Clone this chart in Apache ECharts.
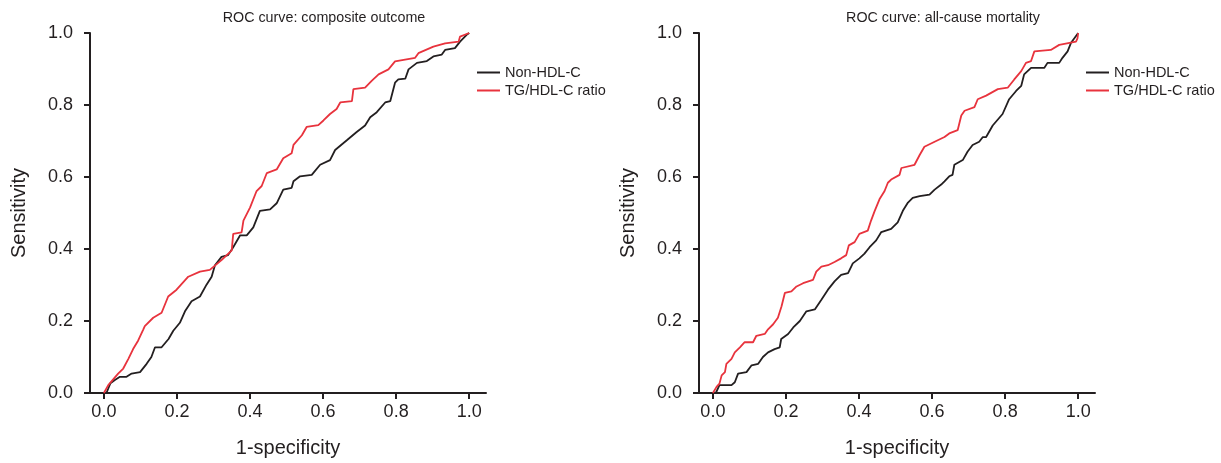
<!DOCTYPE html>
<html>
<head>
<meta charset="utf-8">
<script src="https://cdn.jsdelivr.net/npm/echarts@6/dist/echarts.min.js"></script>
<style>
  html, body { margin: 0; padding: 0; background: #fff; }
  #main { width: 1221px; height: 463px; }
</style>
</head>
<body>
<div id="main"></div>
<script>
// 数据: [1-specificity, sensitivity]
const titles = ['ROC curve: composite outcome', 'ROC curve: all-cause mortality'];
const seriesNames = ['Non-HDL-C', 'TG/HDL-C ratio'];
const tickValues = [0, 0.2, 0.4, 0.6, 0.8, 1.0];

const compositeNonHdl = [[0.007,0],[0.018,0.027],[0.030,0.036],[0.044,0.045],[0.062,0.045],[0.076,0.054],[0.099,0.058],[0.117,0.081],[0.130,0.100],[0.140,0.127],[0.158,0.127],[0.177,0.150],[0.190,0.173],[0.208,0.195],[0.222,0.227],[0.240,0.255],[0.263,0.268],[0.281,0.301],[0.295,0.323],[0.304,0.355],[0.322,0.378],[0.340,0.383],[0.354,0.405],[0.373,0.438],[0.391,0.438],[0.409,0.460],[0.427,0.506],[0.455,0.510],[0.473,0.527],[0.491,0.565],[0.514,0.570],[0.519,0.588],[0.537,0.602],[0.569,0.606],[0.592,0.634],[0.619,0.647],[0.633,0.675],[0.665,0.702],[0.692,0.725],[0.715,0.743],[0.729,0.766],[0.747,0.780],[0.770,0.807],[0.784,0.811],[0.797,0.862],[0.806,0.871],[0.825,0.873],[0.834,0.899],[0.857,0.917],[0.884,0.922],[0.902,0.935],[0.925,0.940],[0.934,0.953],[0.961,0.958],[0.975,0.976],[0.993,0.995],[1,1]];

const compositeTgHdl = [[0,0],[0.012,0.022],[0.039,0.054],[0.053,0.068],[0.067,0.095],[0.080,0.122],[0.094,0.146],[0.108,0.177],[0.112,0.186],[0.135,0.209],[0.158,0.223],[0.176,0.268],[0.199,0.287],[0.231,0.323],[0.263,0.337],[0.290,0.342],[0.322,0.369],[0.350,0.396],[0.354,0.442],[0.377,0.446],[0.382,0.479],[0.400,0.515],[0.418,0.561],[0.432,0.575],[0.446,0.611],[0.473,0.621],[0.491,0.652],[0.514,0.666],[0.519,0.689],[0.542,0.716],[0.555,0.739],[0.587,0.744],[0.601,0.757],[0.619,0.775],[0.637,0.789],[0.647,0.807],[0.679,0.811],[0.683,0.844],[0.715,0.848],[0.733,0.867],[0.752,0.885],[0.779,0.899],[0.797,0.921],[0.852,0.931],[0.861,0.944],[0.902,0.962],[0.934,0.971],[0.971,0.976],[0.975,0.990],[1,1]];

const mortalityNonHdl = [[0.008,0],[0.018,0.022],[0.051,0.022],[0.060,0.030],[0.069,0.054],[0.092,0.058],[0.106,0.077],[0.124,0.081],[0.137,0.100],[0.151,0.113],[0.169,0.122],[0.183,0.127],[0.187,0.150],[0.206,0.164],[0.220,0.182],[0.238,0.200],[0.256,0.227],[0.279,0.232],[0.297,0.259],[0.315,0.287],[0.333,0.310],[0.351,0.328],[0.370,0.333],[0.383,0.360],[0.401,0.374],[0.415,0.387],[0.429,0.405],[0.447,0.424],[0.461,0.447],[0.488,0.456],[0.506,0.474],[0.520,0.506],[0.534,0.529],[0.547,0.542],[0.566,0.547],[0.593,0.551],[0.607,0.565],[0.625,0.579],[0.634,0.588],[0.647,0.602],[0.656,0.606],[0.661,0.634],[0.684,0.647],[0.697,0.670],[0.711,0.689],[0.729,0.698],[0.739,0.711],[0.748,0.711],[0.766,0.743],[0.793,0.775],[0.811,0.816],[0.830,0.839],[0.844,0.853],[0.852,0.885],[0.871,0.903],[0.907,0.903],[0.916,0.917],[0.948,0.917],[0.957,0.931],[0.971,0.949],[0.980,0.972],[1,1]];

const mortalityTgHdl = [[0,0],[0.010,0.017],[0.018,0.026],[0.024,0.049],[0.033,0.058],[0.037,0.081],[0.051,0.095],[0.060,0.113],[0.074,0.127],[0.087,0.141],[0.110,0.141],[0.119,0.159],[0.142,0.164],[0.151,0.177],[0.165,0.191],[0.178,0.209],[0.188,0.241],[0.197,0.278],[0.215,0.282],[0.229,0.296],[0.247,0.305],[0.274,0.314],[0.283,0.337],[0.297,0.351],[0.315,0.355],[0.333,0.364],[0.351,0.374],[0.365,0.383],[0.372,0.410],[0.388,0.419],[0.401,0.442],[0.424,0.451],[0.433,0.479],[0.443,0.506],[0.456,0.538],[0.470,0.561],[0.479,0.584],[0.488,0.593],[0.511,0.606],[0.516,0.625],[0.552,0.634],[0.566,0.661],[0.579,0.684],[0.607,0.698],[0.634,0.711],[0.647,0.721],[0.670,0.730],[0.680,0.771],[0.689,0.784],[0.716,0.794],[0.725,0.816],[0.748,0.826],[0.780,0.844],[0.807,0.848],[0.825,0.871],[0.844,0.894],[0.857,0.917],[0.871,0.922],[0.880,0.949],[0.925,0.953],[0.948,0.967],[0.994,0.976],[0.998,0.985],[1,1]];

const FONT = "'Liberation Sans', Arial, sans-serif";
const INK = '#231f20';
const RED = '#e8333d';

const chart = echarts.init(document.getElementById('main'));

// 两个面板的位置
const panels = [
    { left: 90, titleX: 319, legendX: 472, data: [compositeNonHdl, compositeTgHdl] },
    { left: 699, titleX: 938, legendX: 1081, data: [mortalityNonHdl, mortalityTgHdl] }
];

const axisLine = { show: true, onZero: false, lineStyle: { color: INK, width: 2 } };
const axisTick = { show: true, length: 6, lineStyle: { color: INK, width: 2 } };

const option = {
    animation: false,
    backgroundColor: '#fff',
    title: panels.map((p, i) => ({
        text: titles[i],
        left: p.titleX,
        top: 6,
        textAlign: 'center',
        textStyle: { fontFamily: FONT, fontSize: 14.3, fontWeight: 'normal', color: INK }
    })),
    legend: panels.map(p => ({
        data: seriesNames,
        orient: 'vertical',
        left: p.legendX,
        top: 60,
        icon: 'rect',
        itemWidth: 23,
        itemHeight: 2,
        itemGap: 3,
        selectedMode: false,
        textStyle: { fontFamily: FONT, fontSize: 14.5, color: INK }
    })),
    grid: panels.map(p => ({ left: p.left, top: 33, width: 396, height: 365 })),
    xAxis: panels.map((p, i) => ({
        type: 'value',
        gridIndex: i,
        min: -0.038,
        max: 1.046,
        name: '1-specificity',
        nameLocation: 'middle',
        nameGap: 45,
        nameTextStyle: { fontFamily: FONT, fontSize: 20, color: INK },
        splitLine: { show: false },
        axisLine: axisLine,
        axisTick: Object.assign({ customValues: tickValues }, axisTick),
        axisLabel: {
            customValues: tickValues,
            formatter: v => v.toFixed(1),
            margin: 10,
            fontFamily: FONT, fontSize: 18, color: INK
        }
    })),
    yAxis: panels.map((p, i) => ({
        type: 'value',
        gridIndex: i,
        min: 0,
        max: 1,
        interval: 0.2,
        name: 'Sensitivity',
        nameLocation: 'middle',
        nameGap: 61,
        nameTextStyle: { fontFamily: FONT, fontSize: 20, color: INK },
        splitLine: { show: false },
        axisLine: axisLine,
        axisTick: axisTick,
        axisLabel: {
            formatter: v => v.toFixed(1),
            margin: 17,
            fontFamily: FONT, fontSize: 18, color: INK
        }
    })),
    series: []
};

panels.forEach((p, i) => {
    seriesNames.forEach((name, k) => {
        option.series.push({
            type: 'line',
            name: name,
            xAxisIndex: i,
            yAxisIndex: i,
            data: p.data[k],
            symbol: 'none',
            lineStyle: { color: k === 0 ? INK : RED, width: 1.8 },
            itemStyle: { color: k === 0 ? INK : RED },
            z: k === 0 ? 2 : 3
        });
    });
});

chart.setOption(option);
</script>
</body>
</html>
